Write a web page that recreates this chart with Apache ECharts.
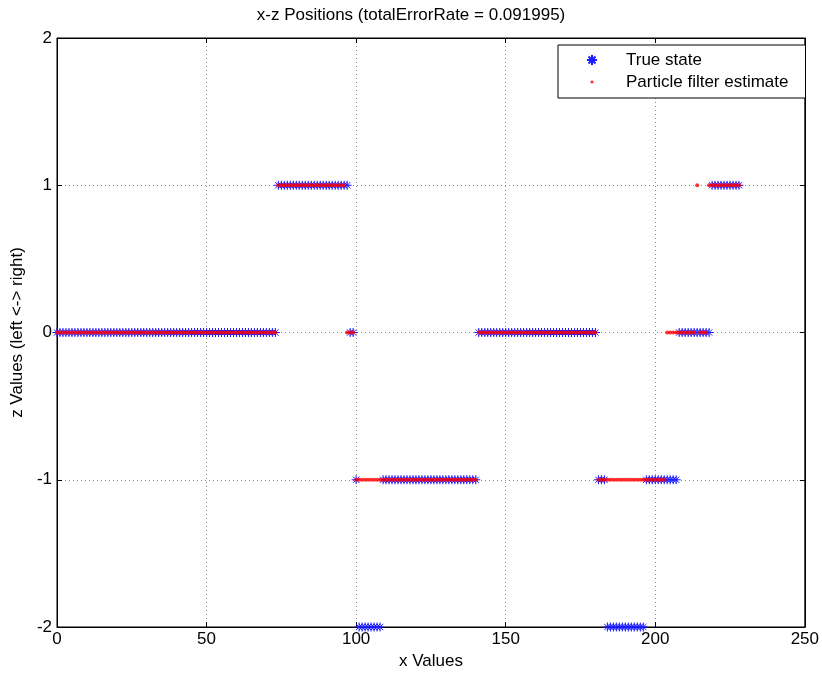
<!DOCTYPE html>
<html>
<head>
<meta charset="utf-8">
<script src="https://cdn.jsdelivr.net/npm/echarts@6/dist/echarts.min.js"></script>
<style>html,body{margin:0;padding:0;background:#fff}#c{width:822px;height:675px}</style>
</head>
<body>
<div id="c"></div>
<script>
// x values (time steps) of the true state at each z level
var trueZ1 = [74,75,76,77,78,79,80,81,82,83,84,85,86,87,88,89,90,91,92,93,94,95,96,97,
  219,220,221,222,223,224,225,226,227,228];
var trueZ0 = [0,1,2,3,4,5,6,7,8,9,10,11,12,13,14,15,16,17,18,19,20,21,22,23,24,25,26,27,28,29,30,31,32,33,34,35,36,37,38,39,40,41,42,43,44,45,46,47,48,49,50,51,52,53,54,55,56,57,58,59,60,61,62,63,64,65,66,67,68,69,70,71,72,73,
  98,99,
  141,142,143,144,145,146,147,148,149,150,151,152,153,154,155,156,157,158,159,160,161,162,163,164,165,166,167,168,169,170,171,172,173,174,175,176,177,178,179,180,
  208,209,210,211,212,213,214,215,216,217,218];
var trueZm1 = [100,
  109,110,111,112,113,114,115,116,117,118,119,120,121,122,123,124,125,126,127,128,129,130,131,132,133,134,135,136,137,138,139,140,
  181,182,183,
  197,198,199,200,201,202,203,204,205,206,207];
var trueZm2 = [101,102,103,104,105,106,107,108,
  184,185,186,187,188,189,190,191,192,193,194,195,196];

// x values of the particle filter estimate at each z level
var estZ1 = [74,75,76,77,78,79,80,81,82,83,84,85,86,87,88,89,90,91,92,93,94,95,96,
  214,
  218,219,220,221,222,223,224,225,226,227,228];
var estZ0 = [0,1,2,3,4,5,6,7,8,9,10,11,12,13,14,15,16,17,18,19,20,21,22,23,24,25,26,27,28,29,30,31,32,33,34,35,36,37,38,39,40,41,42,43,44,45,46,47,48,49,50,51,52,53,54,55,56,57,58,59,60,61,62,63,64,65,66,67,68,69,70,71,72,73,
  97,98,99,
  141,142,143,144,145,146,147,148,149,150,151,152,153,154,155,156,157,158,159,160,161,162,163,164,165,166,167,168,169,170,171,172,173,174,175,176,177,178,179,180,
  204,205,206,207,208,209,210,211,212,213,
  215,216,217];
var estZm1 = [100,101,102,103,104,105,106,107,108,109,110,111,112,113,114,115,116,117,118,119,120,121,122,123,124,125,126,127,128,129,130,131,132,133,134,135,136,137,138,139,140,
  181,182,183,184,185,186,187,188,189,190,191,192,193,194,195,196,197,198,199,200,201,202,203];

var xTicks = [0, 50, 100, 150, 200, 250];
var zTicks = [-2, -1, 0, 1, 2];

function pairs(xs, z) { return xs.map(function (x) { return [x, z]; }); }
var trueData = [].concat(pairs(trueZ1, 1), pairs(trueZ0, 0), pairs(trueZm1, -1), pairs(trueZm2, -2));
var estData = [].concat(pairs(estZ1, 1), pairs(estZ0, 0), pairs(estZm1, -1));

var FONT = 'Liberation Sans, Arial, Helvetica, sans-serif';
var FS = 17;
var star = 'path://M5,0L5,10M0,5L10,5M1.5,1.5L8.5,8.5M1.5,8.5L8.5,1.5';
var smallDot = 'path://M0,0L0,0M10,10L10,10M6.6,5L6.13,6.13L5,6.6L3.87,6.13L3.4,5L3.87,3.87L5,3.4L6.13,3.87Z';
var gridLine = { show: true, lineStyle: { color: '#8a8a8a', type: [1, 3], width: 1 } };
var tick = { show: true, inside: true, length: 5, lineStyle: { color: '#000' } };

var chart = echarts.init(document.getElementById('c'), null, { renderer: 'canvas' });
chart.setOption({
  animation: false,
  backgroundColor: '#fff',
  title: {
    text: 'x-z Positions (totalErrorRate = 0.091995)',
    left: 'center', top: 2,
    textStyle: { fontFamily: FONT, fontSize: FS, fontWeight: 'normal', color: '#000' }
  },
  legend: {
    orient: 'vertical',
    left: 558, top: 45,
    padding: [5, 17, 6, 28],
    itemGap: 2,
    itemWidth: 14, itemHeight: 10,
    backgroundColor: '#fff',
    borderColor: '#000', borderWidth: 1,
    borderRadius: 0,
    textStyle: { fontFamily: FONT, fontSize: FS, lineHeight: 20, color: '#000', padding: [0, 0, 0, 22] },
    data: [
      { name: 'True state', icon: star },
      { name: 'Particle filter estimate', icon: smallDot }
    ]
  },
  grid: { left: 57, right: 15, top: 38, bottom: 48, show: true, borderColor: '#000', borderWidth: 1, backgroundColor: 'transparent' },
  xAxis: [{
    type: 'value', min: xTicks[0], max: xTicks[xTicks.length - 1], interval: 50,
    name: 'x Values', nameLocation: 'middle', nameGap: 25,
    nameTextStyle: { fontFamily: FONT, fontSize: FS, color: '#000', verticalAlign: 'top' },
    axisLine: { show: true, onZero: false, lineStyle: { color: '#000' } },
    axisTick: tick,
    axisLabel: { fontFamily: FONT, fontSize: FS, color: '#000', margin: 4 },
    splitLine: gridLine
  }, {
    type: 'value', position: 'top', min: 0, max: 250, interval: 50,
    axisLine: { show: true, onZero: false, lineStyle: { color: '#000' } },
    axisTick: tick,
    axisLabel: { show: false }, splitLine: { show: false }
  }],
  yAxis: [{
    type: 'value', min: zTicks[0], max: zTicks[zTicks.length - 1], interval: 1,
    name: 'z Values (left <-> right)', nameLocation: 'middle', nameGap: 30,
    nameTextStyle: { fontFamily: FONT, fontSize: FS, color: '#000' },
    axisLine: { show: true, onZero: false, lineStyle: { color: '#000' } },
    axisTick: tick,
    axisLabel: { fontFamily: FONT, fontSize: FS, color: '#000', margin: 5 },
    splitLine: gridLine
  }, {
    type: 'value', position: 'right', min: -2, max: 2, interval: 1,
    axisLine: { show: true, onZero: false, lineStyle: { color: '#000' } },
    axisTick: tick,
    axisLabel: { show: false }, splitLine: { show: false }
  }],
  series: [{
    name: 'True state', type: 'scatter',
    symbol: star, symbolSize: 9,
    itemStyle: { color: 'rgba(0,0,255,0)', borderColor: '#1a1aff', borderWidth: 1, opacity: 1 },
    data: trueData, z: 2
  }, {
    name: 'Particle filter estimate', type: 'scatter',
    symbol: 'circle', symbolSize: 4,
    itemStyle: { color: '#ff0000' },
    data: estData, z: 3
  }]
});
</script>
</body>
</html>
